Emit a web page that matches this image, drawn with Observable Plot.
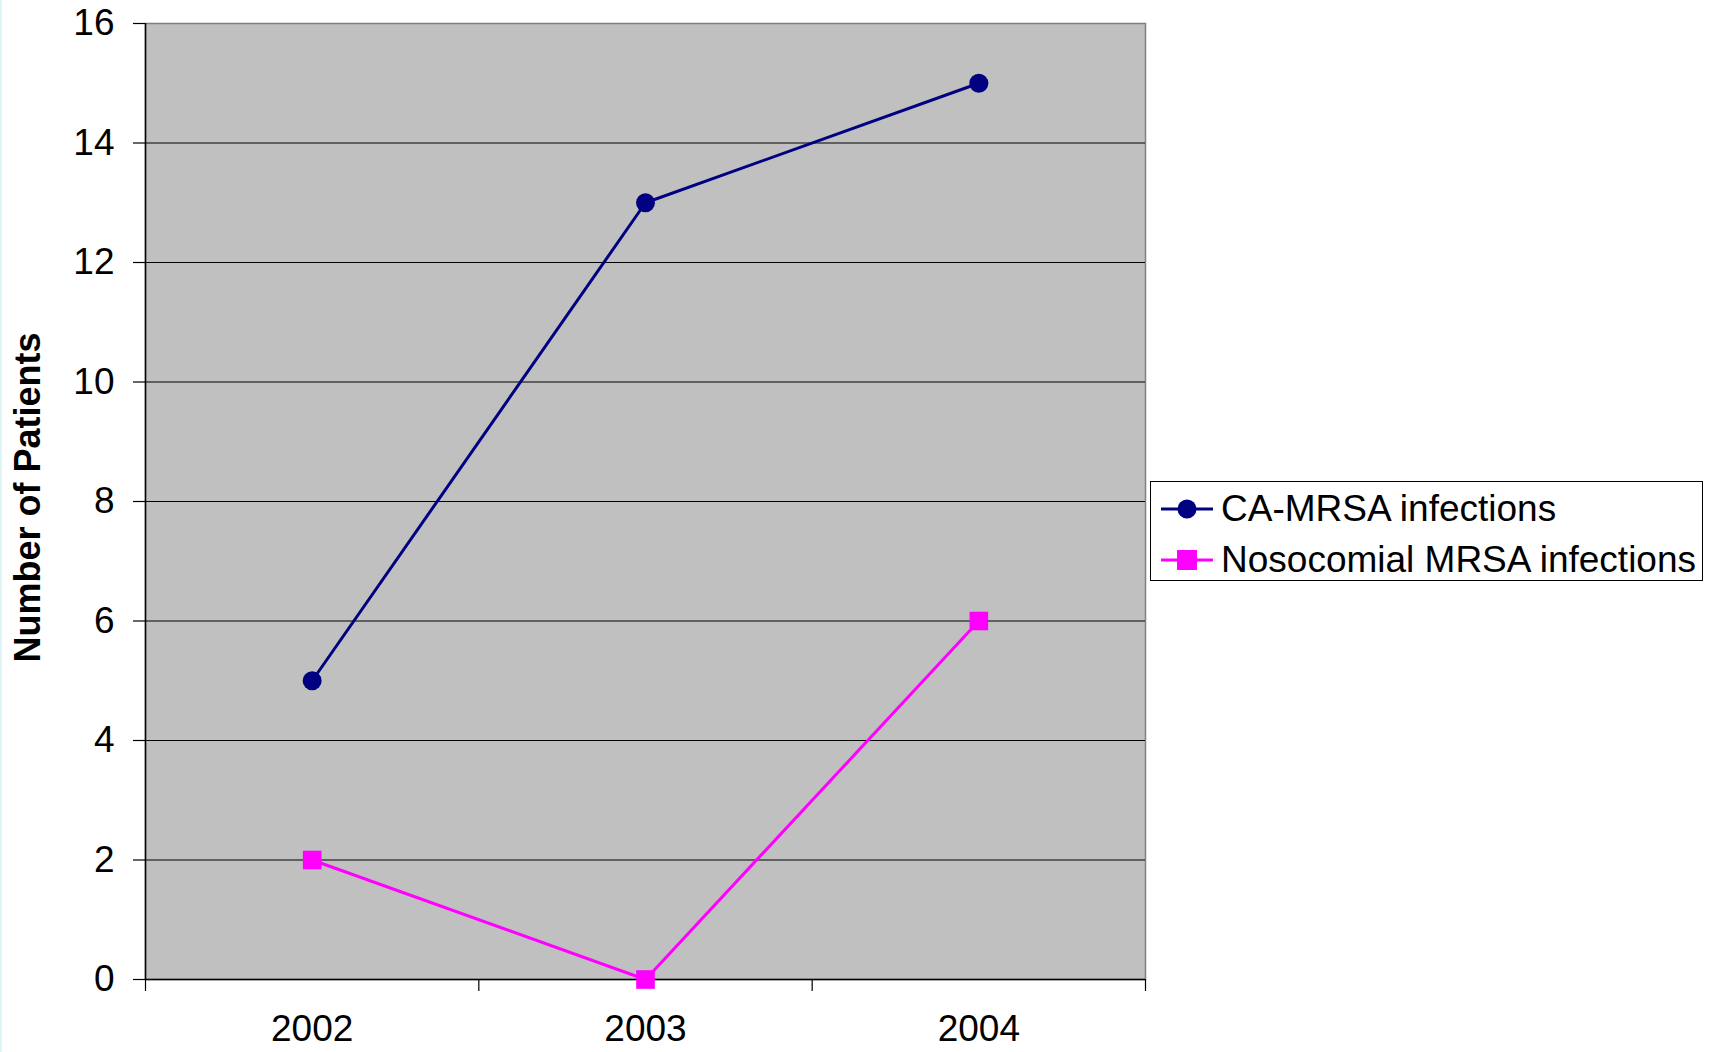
<!DOCTYPE html>
<html>
<head>
<meta charset="utf-8">
<script src="https://cdn.jsdelivr.net/npm/d3@7"></script>
<script src="https://cdn.jsdelivr.net/npm/@observablehq/plot@0.6"></script>
<style>
  html, body { margin: 0; padding: 0; background: #fff; }
  body { width: 1713px; height: 1052px; position: relative; overflow: hidden; font-family: "Liberation Sans", Arial, sans-serif; }
  #edge { position: absolute; left: 0; top: 0; width: 2px; height: 1052px; background: #def6f6; }
  #legend { position: absolute; left: 1150px; top: 481px; width: 551px; height: 98px; border: 1px solid #000; background: #fff; }
  .row { position: absolute; left: 10px; height: 40px; display: flex; align-items: center; font-size: 37px; color: #000; white-space: nowrap; }
  .row svg { margin-right: 8px; }
</style>
</head>
<body>
<div id="edge"></div>
<div id="chart"></div>
<div id="legend"></div>
<script>
const years = ["2002", "2003", "2004"];
const caMrsa = [5, 13, 15];
const nosocomial = [2, 0, 6];
const yTicks = [0, 2, 4, 6, 8, 10, 12, 14, 16];
const seriesNames = ["CA-MRSA infections", "Nosocomial MRSA infections"];
const seriesColors = ["#000080", "#ff00ff"];
const yLabel = "Number of Patients";

const caRows = years.map((yr, i) => ({x: i + 0.5, y: caMrsa[i]}));
const noRows = years.map((yr, i) => ({x: i + 0.5, y: nosocomial[i]}));

const chart = Plot.plot({
  width: 1713,
  height: 1052,
  marginLeft: 145,
  marginRight: 568,
  marginTop: 23,
  marginBottom: 73,
  style: {fontFamily: "'Liberation Sans', Arial, sans-serif", background: "transparent", color: "#000"},
  x: {type: "linear", domain: [0, years.length], axis: null},
  y: {domain: [0, 16], axis: null},
  marks: [
    Plot.frame({fill: "#c0c0c0", stroke: "#808080", strokeWidth: 1.5}),
    Plot.ruleY(yTicks.filter(d => d > 0 && d < 16), {stroke: "#000", strokeWidth: 1}),
    Plot.axisY({ticks: yTicks, tickSize: 12, tickPadding: 19, fontSize: 37, tickFormat: d => String(d), label: null, stroke: "#000", strokeWidth: 1.2}),
    Plot.axisX({ticks: d3.range(years.length + 1), tickSize: 12, tickFormat: () => "", label: null, stroke: "#000", strokeWidth: 1.2}),
    Plot.axisX({ticks: years.map((d, i) => i + 0.5), tickSize: 0, tickPadding: 35, fontSize: 37, tickFormat: d => years[Math.floor(d)], label: null}),
    Plot.ruleX([0], {stroke: "#000", strokeWidth: 1.5}),
    Plot.ruleY([0], {stroke: "#000", strokeWidth: 1.5}),
    Plot.line(caRows, {x: "x", y: "y", stroke: seriesColors[0], strokeWidth: 3}),
    Plot.dot(caRows, {x: "x", y: "y", fill: seriesColors[0], r: 9.5, symbol: "circle"}),
    Plot.line(noRows, {x: "x", y: "y", stroke: seriesColors[1], strokeWidth: 3}),
    Plot.dot(noRows, {x: "x", y: "y", fill: seriesColors[1], r: 10.5, symbol: "square"}),
    Plot.text([yLabel], {frameAnchor: "left", textAnchor: "middle", rotate: -90, dx: -117, dy: -4, fontSize: 36, fontWeight: "bold", fill: "#000"})
  ]
});
document.getElementById("chart").appendChild(chart);

// Legend
const legend = document.getElementById("legend");
seriesNames.forEach((name, i) => {
  const row = document.createElement("div");
  row.className = "row";
  row.style.top = (i === 0 ? 7 : 58) + "px";
  const isSquare = i === 1;
  const marker = isSquare
    ? `<rect x="16" y="10" width="20" height="20" fill="${seriesColors[i]}"/>`
    : `<circle cx="26" cy="20" r="9.5" fill="${seriesColors[i]}"/>`;
  row.innerHTML = `<svg width="52" height="40"><line x1="0" x2="52" y1="20" y2="20" stroke="${seriesColors[i]}" stroke-width="3"/>${marker}</svg><span>${name}</span>`;
  legend.appendChild(row);
});
</script>
</body>
</html>
